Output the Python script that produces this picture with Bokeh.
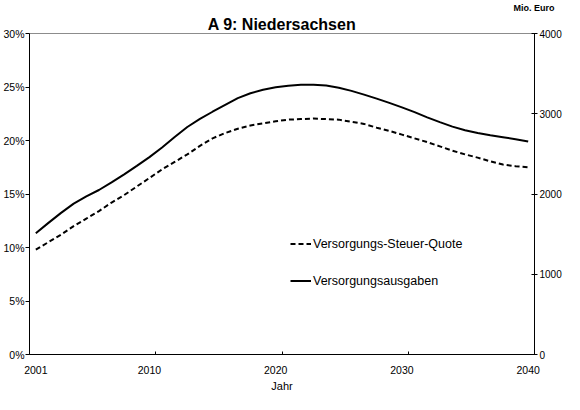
from bokeh.plotting import figure
from bokeh.models import (Range1d, LinearAxis, FixedTicker, PrintfTickFormatter,
                          Legend, LegendItem, Title, ColumnDataSource)
from bokeh.embed import file_html
from bokeh.resources import INLINE

# ---- data ----
years = list(range(2001, 2041))
quote_pct = [9.8, 10.5, 11.2, 12.0, 12.7, 13.4, 14.2, 14.9, 15.7, 16.5,
             17.3, 18.0, 18.7, 19.5, 20.2, 20.7, 21.1, 21.4, 21.6, 21.8,
             21.95, 22.0, 22.05, 22.0, 21.95, 21.75, 21.55, 21.2, 20.9, 20.55,
             20.2, 19.85, 19.45, 19.05, 18.7, 18.4, 18.05, 17.75, 17.6, 17.5]
ausgaben_mio = [1510, 1640, 1765, 1880, 1970, 2050, 2145, 2245, 2350, 2460,
                2580, 2710, 2835, 2935, 3025, 3110, 3195, 3255, 3300, 3330,
                3350, 3360, 3362, 3352, 3325, 3285, 3238, 3188, 3135, 3080,
                3020, 2955, 2895, 2840, 2795, 2760, 2733, 2708, 2682, 2655]
x_label_years = [2001, 2010, 2020, 2030, 2040]
x_tick_labels = ["2001", "2010", "2020", "2030", "2040"]
x_category_bounds = [2000.5, 2010.5, 2020.5, 2030.5, 2040.5]
left_ticks = [0, 5, 10, 15, 20, 25, 30]
right_ticks = [0, 1000, 2000, 3000, 4000]
series_names = ["Versorgungs-Steuer-Quote", "Versorgungsausgaben"]
title_text = "A 9: Niedersachsen"
unit_text = "Mio. Euro"
x_title = "Jahr"

FONT = "Liberation Sans"

src = ColumnDataSource(dict(year=years, quote=quote_pct, mio=ausgaben_mio))

p = figure(width=564, height=394, output_backend="svg", toolbar_location=None,
           x_range=Range1d(x_category_bounds[0], x_category_bounds[-1]),
           y_range=Range1d(left_ticks[0], left_ticks[-1]),
           min_border_left=26, min_border_right=25, min_border_top=30,
           min_border_bottom=38)
p.extra_y_ranges = {"mio": Range1d(right_ticks[0], right_ticks[-1])}
p.grid.visible = False
p.background_fill_color = "white"
p.border_fill_color = "white"
p.outline_line_color = "#8c8c8c"
p.outline_line_width = 1

# top row: unit note of the right axis (outermost title slot)
p.title.text = unit_text
p.title.align = "right"
p.title.offset = -20
p.title.standoff = 0
p.title.text_font = FONT
p.title.text_font_size = "9px"
p.title.text_font_style = "bold"
p.title.text_color = "black"

# chart title (slot next to the frame)
main_title = Title(text=title_text, align="center", offset=-7, standoff=2,
                   text_font=FONT, text_font_size="16px",
                   text_font_style="bold", text_color="black")
p.add_layout(main_title, "above")

# x axis
xa = p.xaxis[0]
xa.ticker = FixedTicker(ticks=x_label_years, minor_ticks=x_category_bounds)
xa.major_label_overrides = {float(y): t for y, t in zip(x_label_years, x_tick_labels)}
xa.major_tick_in = 0
xa.major_tick_out = 0
xa.minor_tick_in = 3
xa.minor_tick_out = 0
xa.minor_tick_line_color = "black"
xa.axis_line_color = "black"
xa.major_label_standoff = 11
xa.major_label_text_font = FONT
xa.major_label_text_font_size = "10.5px"
xa.major_label_text_color = "black"
xa.axis_label = x_title
xa.axis_label_standoff = 3
xa.axis_label_text_font = FONT
xa.axis_label_text_font_size = "11px"
xa.axis_label_text_font_style = "normal"
xa.axis_label_text_color = "black"

# left axis (percent)
ya = p.yaxis[0]
ya.ticker = FixedTicker(ticks=left_ticks, minor_ticks=[])
ya.formatter = PrintfTickFormatter(format="%d%%")
ya.major_tick_in = 0
ya.major_tick_out = 4
ya.minor_tick_in = 0
ya.minor_tick_out = 0
ya.major_label_standoff = 1
ya.axis_line_color = "black"
ya.major_tick_line_color = "black"
ya.major_label_text_font = FONT
ya.major_label_text_font_size = "10.5px"
ya.major_label_text_color = "black"

# right axis (Mio. Euro)
ra = LinearAxis(y_range_name="mio",
                ticker=FixedTicker(ticks=right_ticks, minor_ticks=[]))
ra.major_tick_in = 3
ra.major_tick_out = 3
ra.minor_tick_in = 0
ra.minor_tick_out = 0
ra.major_label_standoff = 2
ra.axis_line_color = "black"
ra.major_tick_line_color = "black"
ra.major_label_text_font = FONT
ra.major_label_text_font_size = "10px"
ra.major_label_text_color = "black"
p.add_layout(ra, "right")

# series
r_quote = p.line("year", "quote", source=src, line_color="black",
                 line_width=2, line_dash="5 3")
r_mio = p.line("year", "mio", source=src, y_range_name="mio",
               line_color="black", line_width=2)

legend = Legend(items=[LegendItem(label=series_names[0], renderers=[r_quote]),
                       LegendItem(label=series_names[1], renderers=[r_mio])],
                location=(261, 66), orientation="vertical",
                background_fill_alpha=0, border_line_alpha=0,
                padding=0, margin=0, spacing=22,
                glyph_width=21, glyph_height=15, label_height=15,
                label_standoff=2, label_text_font=FONT,
                label_text_font_size="12.5px", label_text_color="black")
p.add_layout(legend, "center")

open("out.html", "w").write(file_html(p, INLINE))
